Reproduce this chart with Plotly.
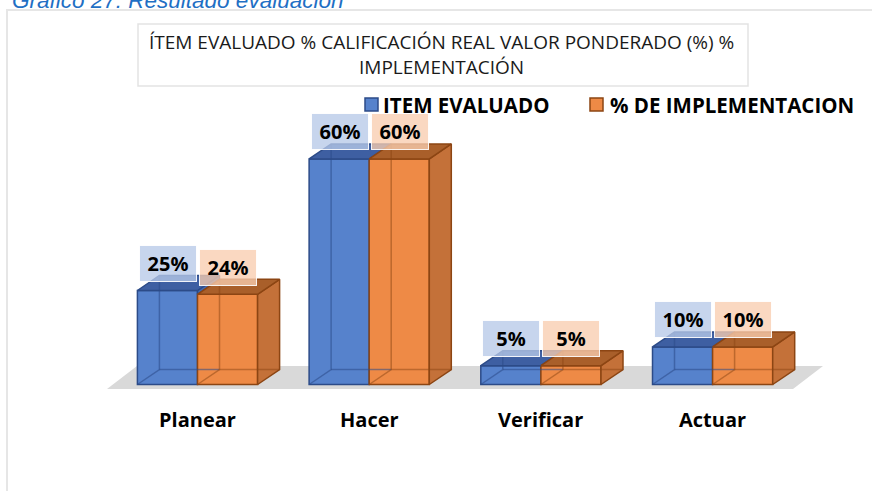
import plotly.graph_objects as go

# ---------------- data ----------------
categories = ["Planear", "Hacer", "Verificar", "Actuar"]
item_evaluado = [25, 60, 5, 10]
pct_implementacion = [24, 60, 5, 10]
series_names = ["ITEM EVALUADO", "% DE IMPLEMENTACION"]
title_lines = ["ÍTEM EVALUADO % CALIFICACIÓN REAL VALOR PONDERADO (%) %", "IMPLEMENTACIÓN"]
caption = "Gráfico 27: Resultado evaluación"

# ---------------- layout constants ----------------
W, H = 872, 491
X0_PX, X_STEP = 197.5, 171.7      # pixel of category 0 centre, pixels per category
Y0_PX, Y_STEP = 384.5, 3.76       # pixel of value 0, pixels per %
x_range = [(0 - X0_PX) / X_STEP, (W - X0_PX) / X_STEP]
y_range = [(Y0_PX - H) / Y_STEP, (Y0_PX - 0) / Y_STEP]
BAR_W = 0.35
DX = 22 / X_STEP
DY = 15 / Y_STEP

styles = [
    dict(front="#5682CC", top="#3E5FA2", side="#4368AC", edge="#2C4B88",
         hidden="rgba(44,75,136,0.55)", label="rgba(183,201,232,0.78)"),
    dict(front="#EE8A46", top="#A95F2A", side="#C47139", edge="#8C4513",
         hidden="rgba(140,69,19,0.5)", label="rgba(248,205,176,0.78)"),
]
series = [item_evaluado, pct_implementacion]
offsets = [-BAR_W / 2, BAR_W / 2]

def px2x(p):
    return (p - X0_PX) / X_STEP

def px2y(p):
    return (Y0_PX - p) / Y_STEP

fig = go.Figure()

# front faces (real bars)
for s, (vals, st, off) in enumerate(zip(series, styles, offsets)):
    fig.add_trace(go.Bar(
        x=[i + off for i in range(len(categories))], y=vals, width=BAR_W,
        base=0, name=series_names[s],
        marker=dict(color=st["front"], line=dict(color=st["edge"], width=1.5)),
        showlegend=False,
    ))

# 3D faces: tops and sides
for i in range(len(categories)):
    for s, (vals, st, off) in enumerate(zip(series, styles, offsets)):
        v = vals[i]
        x0 = i + off - BAR_W / 2
        x1 = i + off + BAR_W / 2
        low = 0 if s == 1 else series[1][i]
        if v > low:
            fig.add_trace(go.Scatter(
                x=[x1, x1 + DX, x1 + DX, x1, x1],
                y=[low, low + DY, v + DY, v, low],
                fill="toself", fillcolor=st["side"], mode="lines",
                line=dict(color=st["edge"], width=1.5), hoverinfo="skip", showlegend=False))
        fig.add_trace(go.Scatter(
            x=[x0, x1, x1 + DX, x0 + DX, x0],
            y=[v, v, v + DY, v + DY, v],
            fill="toself", fillcolor=st["top"], mode="lines",
            line=dict(color=st["edge"], width=1.5), hoverinfo="skip", showlegend=False))

# hidden (see-through) edges
for s, (vals, st, off) in enumerate(zip(series, styles, offsets)):
    xs, ys = [], []
    for i, v in enumerate(vals):
        x0 = i + off - BAR_W / 2
        x1 = i + off + BAR_W / 2
        xs += [x0, x0 + DX, x0 + DX, None, x0 + DX, x1 + DX, None]
        ys += [0, DY, v + DY, None, DY, DY, None]
    fig.add_trace(go.Scatter(x=xs, y=ys, mode="lines",
                             line=dict(color=st["hidden"], width=1.5),
                             hoverinfo="skip", showlegend=False))

annotations = []
# data labels
for s, (vals, st, off) in enumerate(zip(series, styles, offsets)):
    for i, v in enumerate(vals):
        annotations.append(dict(
            x=i + off + 0.003, y=v, xref="x", yref="y", yshift=27,
            text=f"<b>{v}%</b>", showarrow=False,
            font=dict(family="Open Sans", size=20, color="#000000"),
            bgcolor=st["label"], bordercolor="rgba(255,255,255,0.9)", borderwidth=1,
            width=54, height=33, borderpad=1))

# category labels
for i, c in enumerate(categories):
    annotations.append(dict(
        x=i, y=px2y(419), xref="x", yref="y", text=f"<b>{c}</b>", showarrow=False,
        font=dict(family="Open Sans", size=20, color="#000000"),
        xanchor="center", yanchor="middle"))

# chart title lines
for k, (line, py) in enumerate(zip(title_lines, [42, 67])):
    annotations.append(dict(
        x=441 / W, y=1 - py / H, xref="paper", yref="paper", text=line, showarrow=False,
        font=dict(family="Open Sans", size=19, color="#1a1a1a"),
        xanchor="center", yanchor="middle"))

# legend
leg_sq = [(365, 98), (590, 98)]
leg_txt = [381, 608]
shapes = []
for s, st in enumerate(styles):
    sx, sy = leg_sq[s]
    shapes.append(dict(type="rect", xref="paper", yref="paper",
                       x0=sx / W, x1=(sx + 13) / W, y0=1 - sy / H, y1=1 - (sy + 13) / H,
                       fillcolor=st["front"], line=dict(color=st["edge"], width=1.5)))
    annotations.append(dict(
        x=leg_txt[s] / W, y=1 - 105 / H, xref="paper", yref="paper",
        text=f"<b>{series_names[s]}</b>", showarrow=False,
        font=dict(family="Open Sans", size=20.5, color="#000000"),
        xanchor="left", yanchor="middle"))

# caption (partly cut off at top, as in the source)
annotations.append(dict(
    x=10 / W, y=1 - 0.5 / H, xref="paper", yref="paper", text=f"<i>{caption}</i>",
    showarrow=False, font=dict(family="Liberation Sans", size=22.5, color="#1F6FC4"),
    xanchor="left", yanchor="middle"))

# chart frame
shapes.insert(0, dict(type="rect", xref="paper", yref="paper", layer="below",
                      x0=7 / W, x1=1.02, y0=1 - 10 / H, y1=-0.02,
                      fillcolor="white", line=dict(color="#e6e6e6", width=2)))
# title box
shapes.insert(1, dict(type="rect", xref="paper", yref="paper", layer="below",
                      x0=138 / W, x1=748 / W, y0=1 - 24 / H, y1=1 - 86 / H,
                      fillcolor="white", line=dict(color="#e3e3e3", width=1.5)))
# floor
fx0, fx1 = px2x(107), px2x(793)
fy0, fy1 = px2y(389), px2y(366)
fdx = 30 / X_STEP
shapes.insert(2, dict(type="path", xref="x", yref="y", layer="below",
                      path=f"M {fx0},{fy0} L {fx1},{fy0} L {fx1 + fdx},{fy1} L {fx0 + fdx},{fy1} Z",
                      fillcolor="#d9d9d9", line=dict(width=0)))

fig.update_layout(
    width=W, height=H, margin=dict(l=0, r=0, t=0, b=0),
    paper_bgcolor="white", plot_bgcolor="rgba(0,0,0,0)",
    barmode="overlay", showlegend=False,
    xaxis=dict(range=x_range, visible=False, fixedrange=True),
    yaxis=dict(range=y_range, visible=False, fixedrange=True),
    annotations=annotations, shapes=shapes,
)

fig.write_html("out.html", config={"displayModeBar": False},
               post_script="document.body.style.margin='0px';document.body.style.overflow='hidden';")
